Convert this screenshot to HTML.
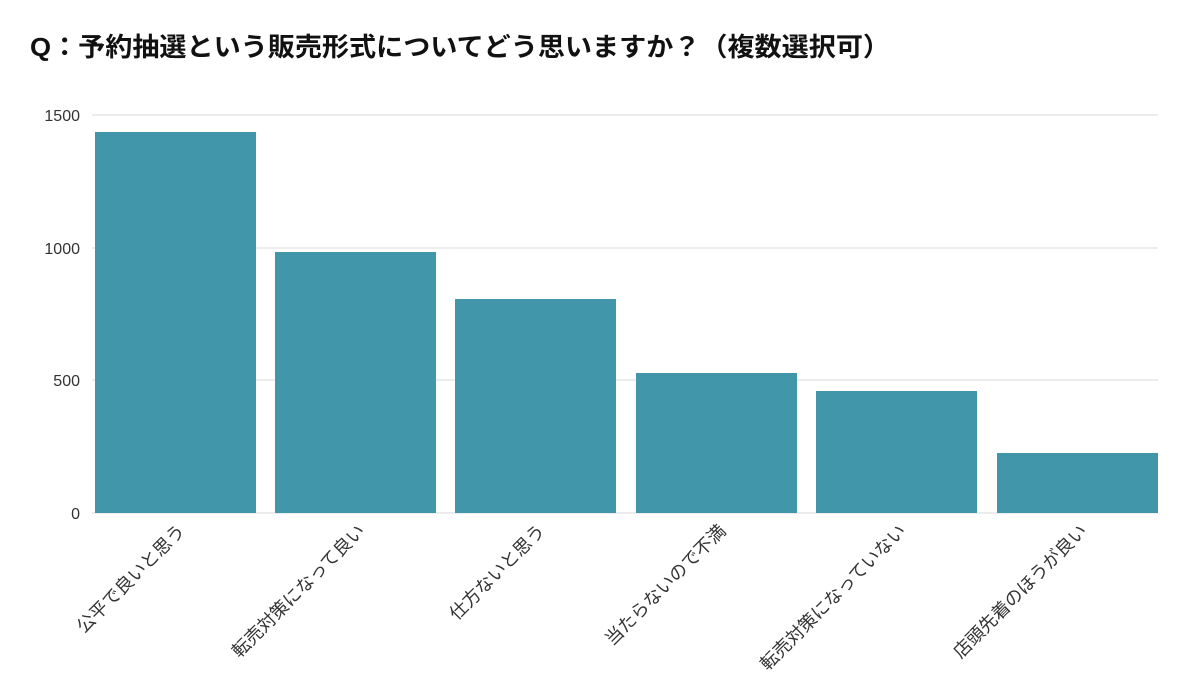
<!DOCTYPE html>
<html><head><meta charset="utf-8"><style>
html,body{margin:0;padding:0;background:#fff;width:1200px;height:697px;overflow:hidden}
svg{display:block}
</style></head><body>
<svg width="1200" height="697" xmlns="http://www.w3.org/2000/svg" font-family="'Liberation Sans','Noto Sans CJK JP',sans-serif">
<text x="30" y="56" font-size="26" font-weight="bold" fill="#111" textLength="860" lengthAdjust="spacingAndGlyphs">Q：予約抽選という販売形式についてどう思いますか？（複数選択可）</text>
<g stroke="#e6e6e6" stroke-width="1.5">
<line x1="92" y1="115" x2="1158" y2="115"/>
<line x1="92" y1="248" x2="1158" y2="248"/>
<line x1="92" y1="380" x2="1158" y2="380"/>
<line x1="92" y1="513" x2="1158" y2="513"/>
</g>
<g font-size="16" fill="#333" text-anchor="end">
<text x="80" y="121">1500</text>
<text x="80" y="254">1000</text>
<text x="80" y="386">500</text>
<text x="80" y="519">0</text>
</g>
<g fill="#4196aa">
<rect x="95" y="132" width="161" height="381"/>
<rect x="275" y="252" width="161" height="261"/>
<rect x="455" y="299" width="161" height="214"/>
<rect x="636" y="373" width="161" height="140"/>
<rect x="816" y="391" width="161" height="122"/>
<rect x="997" y="453" width="161" height="60"/>
</g>
<g font-size="18" fill="#333" text-anchor="end">
<text transform="translate(186,532) rotate(-45)">公平で良いと思う</text>
<text transform="translate(366,532) rotate(-45)">転売対策になって良い</text>
<text transform="translate(546,532) rotate(-45)">仕方ないと思う</text>
<text transform="translate(727,532) rotate(-45)">当たらないので不満</text>
<text transform="translate(907,532) rotate(-45)">転売対策になっていない</text>
<text transform="translate(1088,532) rotate(-45)">店頭先着のほうが良い</text>
</g>
</svg>
</body></html>
